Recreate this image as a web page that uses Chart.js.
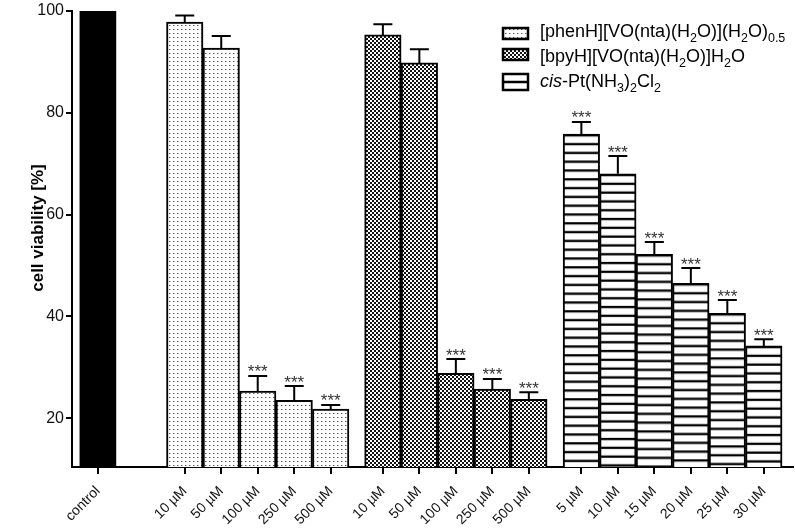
<!DOCTYPE html>
<html><head><meta charset="utf-8">
<script src="https://cdn.jsdelivr.net/npm/chart.js@4.4.1/dist/chart.umd.min.js"></script>
<style>html,body{margin:0;padding:0;background:#fff}</style>
</head><body>
<canvas id="c" width="795" height="529"></canvas>
<script>
// ---------------- data ----------------
const CONTROL_LABELS = ['control'];
const CONTROL_VALUES = [100];
const CONTROL_ERRORS = [0];
const CONTROL_SIG = [false];

const VANADIUM_DOSES = ['10 µM', '50 µM', '100 µM', '250 µM', '500 µM'];
const PT_DOSES = ['5 µM', '10 µM', '15 µM', '20 µM', '25 µM', '30 µM'];

const PHEN_VALUES = [97.8, 92.7, 25.3, 23.5, 21.8];
const PHEN_ERRORS = [1.3, 2.4, 3.0, 2.8, 0.8];
const PHEN_SIG = [false, false, true, true, true];

const BPY_VALUES = [95.3, 89.8, 28.8, 25.7, 23.7];
const BPY_ERRORS = [2.1, 2.7, 2.8, 2.0, 1.4];
const BPY_SIG = [false, false, true, true, true];

const PT_VALUES = [75.8, 68.0, 52.2, 46.5, 40.6, 34.2];
const PT_ERRORS = [2.4, 3.5, 2.4, 3.0, 2.6, 1.3];
const PT_SIG = [true, true, true, true, true, true];

const SERIES_LABELS = [
  '[phenH][VO(nta)(H_{2}O)](H_{2}O)_{0.5}',
  '[bpyH][VO(nta)(H_{2}O)]H_{2}O',
  '/cis/-Pt(NH_{3})_{2}Cl_{2}'
];
const Y_TICKS = [20, 40, 60, 80, 100];
const Y_TITLE = 'cell viability [%]';
const SIG_MARK = '***';

// ---------------- layout ----------------
const GROUP_START = [0, 2.38, 7.81, 13.25];   // slot position of first bar of each group
const X_RANGE = [-0.71, 19.05];
const Y_RANGE = [10.4, 100];
const FONT = '"Liberation Sans", Arial, Helvetica, sans-serif';

// ---------------- patterns ----------------
function mk(w, h, fn) { const c = document.createElement('canvas'); c.width = w; c.height = h; fn(c.getContext('2d')); return c; }
const dotCanvas = mk(4, 4, g => { g.fillStyle = '#fff'; g.fillRect(0, 0, 4, 4); g.fillStyle = '#555'; g.fillRect(1, 1, 1, 1); g.fillStyle = '#bbb'; g.fillRect(2, 1, 1, 1); });
const checkCanvas = mk(4, 4, g => { g.fillStyle = '#fff'; g.fillRect(0, 0, 4, 4); g.fillStyle = '#111'; g.fillRect(0, 0, 2, 2); g.fillRect(2, 2, 2, 2); });
const stripeCanvas = mk(4, 44, g => { g.fillStyle = '#fff'; g.fillRect(0, 0, 4, 44); g.fillStyle = '#000'; for (let k = 0; k < 5; k++) g.fillRect(0, k * 8.8, 4, 2.3); });

const cv = document.getElementById('c');
const c2d = cv.getContext('2d');
const dotPat = c2d.createPattern(dotCanvas, 'repeat');
const checkPat = c2d.createPattern(checkCanvas, 'repeat');

// ---------------- build bars ----------------
const groups = [
  { labels: CONTROL_LABELS, values: CONTROL_VALUES, errors: CONTROL_ERRORS, sig: CONTROL_SIG, fill: 'solid' },
  { labels: VANADIUM_DOSES, values: PHEN_VALUES, errors: PHEN_ERRORS, sig: PHEN_SIG, fill: 'dots' },
  { labels: VANADIUM_DOSES, values: BPY_VALUES, errors: BPY_ERRORS, sig: BPY_SIG, fill: 'check' },
  { labels: PT_DOSES, values: PT_VALUES, errors: PT_ERRORS, sig: PT_SIG, fill: 'stripes' }
];
const bars = [];
groups.forEach((g, gi) => g.values.forEach((v, i) => bars.push({
  x: GROUP_START[gi] + i, y: v, err: g.errors[i], sig: g.sig[i], label: g.labels[i], fill: g.fill
})));

function fillFor(ctx) {
  const b = bars[ctx.dataIndex];
  if (!b) return '#fff';
  if (b.fill === 'solid') return '#000';
  if (b.fill === 'dots') return dotPat;
  if (b.fill === 'check') return checkPat;
  const p = ctx.chart.ctx.createPattern(stripeCanvas, 'repeat');
  const ys = ctx.chart.scales.y;
  if (ys && p.setTransform) {
    const top = ys.getPixelForValue(b.y);
    if (isFinite(top)) p.setTransform(new DOMMatrix().translate(0, top));
  }
  return p;
}

// ---------------- rich text ----------------
function parseRich(s) {
  const out = []; let buf = '', it = false, i = 0;
  while (i < s.length) {
    const ch = s[i];
    if (ch === '_' && s[i + 1] === '{') {
      if (buf) { out.push({ t: buf, it }); buf = ''; }
      const j = s.indexOf('}', i);
      out.push({ t: s.slice(i + 2, j), sub: true, it });
      i = j + 1; continue;
    }
    if (ch === '/') { if (buf) { out.push({ t: buf, it }); buf = ''; } it = !it; i++; continue; }
    buf += ch; i++;
  }
  if (buf) out.push({ t: buf, it });
  return out;
}
function drawRich(g, s, x, y) {
  g.textAlign = 'left'; g.textBaseline = 'alphabetic';
  for (const seg of parseRich(s)) {
    g.font = (seg.it ? 'italic ' : '') + (seg.sub ? '12.5px ' : '18px ') + FONT;
    g.fillText(seg.t, x, y + (seg.sub ? 5 : 0));
    x += g.measureText(seg.t).width;
  }
}

// ---------------- overlay plugin ----------------
const overlay = {
  id: 'overlay',
  afterDatasetsDraw(chart) {
    const g = chart.ctx, xs = chart.scales.x, ys = chart.scales.y;
    g.save();
    g.strokeStyle = '#000'; g.lineWidth = 2;
    bars.forEach(b => {
      if (!b.err) return;
      const x = xs.getPixelForValue(b.x);
      const y0 = ys.getPixelForValue(b.y);
      const y1 = ys.getPixelForValue(b.y + b.err);
      g.beginPath(); g.moveTo(x, y0); g.lineTo(x, y1);
      g.moveTo(x - 9.5, y1); g.lineTo(x + 9.5, y1); g.stroke();
      if (b.sig) {
        g.fillStyle = '#333'; g.font = '17px ' + FONT; g.textAlign = 'center'; g.textBaseline = 'alphabetic';
        g.fillText(SIG_MARK, x, y1 + 1.5);
      }
    });
    g.restore();
  },
  afterDraw(chart) {
    const g = chart.ctx;
    g.save();
    // y title
    g.translate(38, 228); g.rotate(-Math.PI / 2);
    g.fillStyle = '#000'; g.font = 'bold 17px ' + FONT; g.textAlign = 'center'; g.textBaseline = 'middle';
    g.fillText(Y_TITLE, 0, 0);
    g.restore();
    // legend
    g.save();
    const boxes = [
      { x: 503, y: 28, w: 25, h: 11, fill: dotPat },
      { x: 503, y: 49, w: 25, h: 11, fill: checkPat },
      { x: 503, y: 74, w: 25, h: 16, fill: '#fff', mid: true }
    ];
    const base = [37, 62, 87];
    boxes.forEach((bx, i) => {
      g.fillStyle = bx.fill; g.fillRect(bx.x, bx.y, bx.w, bx.h);
      g.strokeStyle = '#000'; g.lineWidth = 2.5; g.strokeRect(bx.x, bx.y, bx.w, bx.h);
      if (bx.mid) { g.beginPath(); g.moveTo(bx.x, bx.y + bx.h / 2); g.lineTo(bx.x + bx.w, bx.y + bx.h / 2); g.stroke(); }
      g.fillStyle = '#000';
      drawRich(g, SERIES_LABELS[i], 540, base[i]);
    });
    g.restore();
  }
};

new Chart(cv, {
  type: 'bar',
  data: {
    datasets: [{
      label: 'cell viability',
      data: bars.map(b => ({ x: b.x, y: b.y })),
      backgroundColor: fillFor,
      hoverBackgroundColor: fillFor,
      borderColor: '#000',
      borderWidth: 2,
      borderSkipped: false,
      barPercentage: 1,
      categoryPercentage: 1
    }]
  },
  options: {
    responsive: false,
    animation: false,
    events: [],
    layout: { padding: { top: 11, right: 2, left: 0, bottom: 0 } },
    plugins: { legend: { display: false }, tooltip: { enabled: false } },
    scales: {
      x: {
        type: 'linear', min: X_RANGE[0], max: X_RANGE[1], offset: false,
        grid: { display: true, drawOnChartArea: false, drawTicks: true, tickLength: 7, color: '#000', lineWidth: 2, offset: false },
        border: { display: true, color: '#000', width: 2 },
        afterBuildTicks: s => { s.ticks = bars.map(b => ({ value: b.x })); },
        afterFit: s => { s.height = 62; s.paddingLeft = 0; s.paddingRight = 0; },
        ticks: {
          autoSkip: false, minRotation: 45, maxRotation: 45, padding: 9,
          color: '#111', font: { family: FONT, size: 14 },
          callback: (v, i) => bars[i] ? bars[i].label : ''
        }
      },
      y: {
        type: 'linear', min: Y_RANGE[0], max: Y_RANGE[1],
        grid: { display: true, drawOnChartArea: false, drawTicks: true, tickLength: 6, color: '#000', lineWidth: 2 },
        border: { display: true, color: '#000', width: 2 },
        afterBuildTicks: s => { s.ticks = Y_TICKS.map(v => ({ value: v })); },
        afterFit: s => { s.width = 72; s.paddingTop = 0; s.paddingBottom = 0; },
        ticks: { padding: 2, color: '#111', font: { family: FONT, size: 16 } }
      }
    }
  },
  plugins: [overlay]
});
</script>
</body></html>
